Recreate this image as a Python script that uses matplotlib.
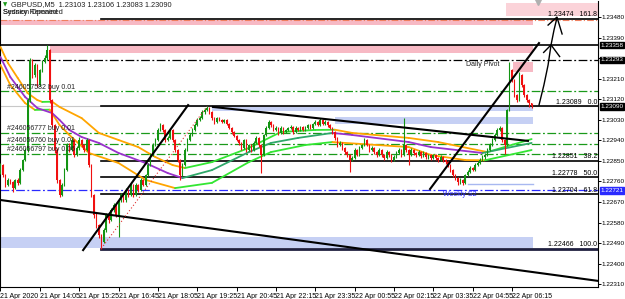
import numpy as np
import matplotlib.pyplot as plt
from matplotlib.patches import Rectangle
import matplotlib.transforms as mtrans

plt.rcParams['font.family'] = ['Liberation Sans', 'DejaVu Sans']

# prices are stored as points (1e-5) above BASE
BASE = 1.22
first_open = 800
closes = [832, 788, 745, 767, 758, 731, 767, 754, 810, 854,
          898, 1117, 1293, 1227, 1271, 1183, 1249, 1284, 1302, 1337,
          1117, 1008, 898, 767, 701, 745, 810, 920, 898, 942,
          876, 907, 942, 920, 898, 942, 832, 701, 613, 569,
          525, 495, 547, 613, 591, 635, 657, 613, 679, 701,
          679, 723, 701, 745, 701, 745, 723, 767, 745, 788,
          832, 876, 920, 942, 986, 1008, 986, 942, 951, 986,
          942, 898, 854, 788, 832, 898, 942, 964, 986, 1008,
          1030, 1038, 1065, 1074, 1082, 1065, 1038, 1021, 1038, 1030,
          1021, 1030, 1012, 995, 977, 960, 942, 929, 907, 942,
          898, 920, 898, 929, 951, 920, 876, 964, 995, 1021,
          1008, 986, 995, 973, 995, 977, 986, 995, 999, 977,
          995, 986, 999, 986, 995, 1008, 995, 1012, 1021, 1008,
          1030, 1012, 1021, 1008, 995, 977, 951, 920, 929, 907,
          889, 876, 854, 863, 898, 876, 907, 920, 942, 920,
          898, 907, 889, 876, 898, 876, 863, 889, 876, 854,
          867, 885, 898, 876, 920, 898, 876, 898, 885, 876,
          889, 872, 885, 867, 876, 863, 876, 863, 854, 867,
          854, 845, 832, 810, 788, 775, 758, 767, 754, 788,
          802, 819, 810, 832, 841, 854, 867, 876, 898, 920,
          942, 964, 986, 995, 942, 920, 1074, 1249, 1205, 1139,
          1117, 1227, 1183, 1139, 1117, 1103, 1090]
highs = [840, 838, 795, 775, 772, 762, 772, 775, 818, 860,
         905, 1125, 1300, 1298, 1280, 1275, 1255, 1292, 1315, 1359,
         1340, 1122, 1012, 905, 772, 752, 818, 930, 928, 950,
         948, 915, 955, 948, 925, 950, 946, 836, 705, 620,
         575, 530, 555, 620, 622, 642, 665, 662, 688, 710,
         708, 730, 728, 752, 750, 755, 750, 775, 772, 795,
         840, 884, 930, 952, 995, 1017, 1012, 990, 960, 994,
         990, 946, 902, 858, 840, 905, 950, 972, 994, 1015,
         1038, 1046, 1072, 1082, 1089, 1086, 1070, 1044, 1045, 1043,
         1035, 1036, 1034, 1016, 1000, 982, 965, 948, 933, 948,
         946, 926, 924, 936, 958, 955, 925, 970, 1002, 1030,
         1026, 1012, 1002, 1000, 1002, 1000, 992, 1000, 1006, 1004,
         1002, 1000, 1005, 1004, 1002, 1014, 1012, 1018, 1028, 1026,
         1038, 1034, 1028, 1026, 1012, 1000, 982, 956, 936, 934,
         912, 894, 880, 870, 905, 902, 914, 926, 950, 946,
         925, 914, 912, 894, 905, 902, 880, 896, 894, 880,
         874, 892, 905, 902, 1038, 925, 902, 905, 902, 890,
         896, 893, 892, 890, 882, 880, 882, 880, 868, 874,
         870, 858, 850, 836, 814, 792, 780, 774, 772, 795,
         810, 826, 824, 840, 848, 862, 874, 884, 905, 928,
         950, 972, 994, 1003, 1000, 946, 1080, 1284, 1255, 1210,
         1145, 1240, 1232, 1188, 1145, 1122, 1106]
lows = [795, 780, 735, 740, 750, 715, 725, 745, 750, 805,
        850, 890, 1110, 1215, 1220, 1175, 1178, 1240, 1278, 1295,
        1105, 1000, 885, 755, 690, 695, 740, 805, 890, 892,
        868, 870, 900, 912, 890, 892, 825, 690, 600, 555,
        512, 466, 488, 540, 580, 585, 628, 605, 518, 672,
        670, 672, 692, 695, 690, 696, 715, 718, 738, 740,
        782, 826, 870, 915, 936, 980, 978, 935, 936, 946,
        935, 890, 846, 767, 782, 828, 892, 936, 958, 980,
        1002, 1024, 1032, 1058, 1068, 1058, 1030, 1014, 1016, 1024,
        1015, 1016, 1006, 988, 970, 954, 936, 922, 900, 902,
        890, 892, 890, 893, 924, 912, 797, 870, 958, 990,
        1000, 980, 980, 966, 968, 970, 972, 980, 990, 970,
        972, 980, 980, 980, 980, 990, 988, 990, 1006, 1002,
        1002, 1006, 1006, 1000, 988, 970, 944, 912, 914, 900,
        882, 868, 802, 848, 858, 870, 872, 902, 915, 914,
        890, 892, 882, 868, 870, 868, 855, 858, 868, 846,
        848, 862, 880, 868, 870, 890, 832, 870, 878, 868,
        870, 865, 866, 860, 860, 856, 858, 856, 846, 848,
        846, 838, 825, 802, 780, 766, 745, 750, 746, 750,
        782, 796, 804, 805, 826, 836, 848, 860, 870, 892,
        914, 936, 958, 980, 935, 880, 915, 1068, 1198, 1132,
        1108, 1112, 1175, 1130, 1110, 1085, 1083]

# moving averages (bar index, points)
ma_hi_bars = [0, 3, 7, 11, 15, 17, 21, 24, 33, 40, 48, 56, 63, 70, 75, 86, 101, 114, 128, 136, 143, 166, 178, 198, 216]
ma_hi_vals = [1350, 1280, 1214, 1148, 1117, 1109, 1110, 1087, 1038, 973, 942, 911, 867, 832, 819, 845, 907, 977, 986, 987, 973, 951, 933, 889, 946]
ma_mid_bars = [0, 4, 10, 15, 21, 24, 28, 33, 40, 48, 59, 68, 74, 86, 101, 110, 121, 135, 143, 166, 175, 196, 216]
ma_mid_vals = [1306, 1218, 1131, 1082, 1060, 1030, 986, 955, 929, 885, 841, 797, 775, 810, 889, 929, 951, 973, 964, 933, 911, 885, 929]
ma_lo_bars = [0, 4, 10, 14, 20, 24, 28, 36, 48, 59, 71, 86, 101, 110, 124, 135, 136, 166, 175, 189, 197, 216]
ma_lo_vals = [1271, 1183, 1104, 1074, 1075, 1008, 964, 885, 841, 767, 731, 754, 845, 889, 920, 933, 932, 911, 876, 854, 853, 898]

# horizontal levels
fib_levels = [1.23474, 1.23089, 1.22851, 1.22778, 1.22704, 1.22466]
fib_names = ['161.8', '0.0', '38.2', '50.0', '61.8', '100.0']
fib_start = 41
order_levels = [1.23157, 1.22973, 1.22924, 1.22881]
order_names = ['#246057582 buy 0.01', '#246056777 buy 0.01', '#246056760 buy 0.01', '#246056797 buy 0.06']
pivot = 1.23293
weekly_s2 = 1.22721
hline = 1.23358
bid = 1.23090

# zones: (bar from, bar to, low pts, high pts)
pink_zones = [(-1, 216.5, 1446, 1468), (20, 216.5, 1323, 1359), (208.4, 216.5, 1240, 1284)]
light_pink_zone = (205.6, 243, 1486, 1543)
blue_zones = [(86, 216.5, 1069, 1091), (136, 216.5, 1012, 1043), (-1, 216.5, 468, 517)]

# trend lines: (bar0, pts0, bar1, pts1)
trend_lines = [(-0.2, 679, 243, 324), (86.4, 1087, 214.5, 938),
               (33.6, 459, 76.3, 1095), (174.7, 727, 219, 1367)]
fib_line = (41, 466, 84, 1089)

# hand drawn arrow
arrow_bars = [219, 221, 222.7, 223.9, 225.1, 226.3]
arrow_pts = [1095, 1183, 1271, 1359, 1424, 1477]
head1 = ([220.9, 223.9, 227.4], [1326, 1359, 1308])
head2 = ([222.7, 226.3, 228.4], [1446, 1481, 1407])

x_labels = ['21 Apr 2020', '21 Apr 14:05', '21 Apr 15:25', '21 Apr 16:45', '21 Apr 18:05',
            '21 Apr 19:25', '21 Apr 20:45', '21 Apr 22:15', '21 Apr 23:35', '22 Apr 00:55',
            '22 Apr 02:15', '22 Apr 03:35', '22 Apr 04:55', '22 Apr 06:15']
y_ticks = [1.22310, 1.22400, 1.22490, 1.22580, 1.22670, 1.22760, 1.22850, 1.22940,
           1.23030, 1.23120, 1.23210, 1.23300, 1.23390, 1.23480]


def P(v):
    return BASE + np.asarray(v) / 1e5


fig = plt.figure(figsize=(6.25, 2.99), dpi=100)
ax = fig.add_axes([0, 12 / 299, 598 / 625, 286 / 299])
ax.set_xlim(-0.2, 243)
ax.set_ylim(P(297.2), P(1551.6))

# zones
for b0, b1, lo, hi in pink_zones:
    ax.add_patch(Rectangle((b0, P(lo)), b1 - b0, P(hi) - P(lo), fc='#f7b9c4', ec='none', zorder=1))
b0, b1, lo, hi = light_pink_zone
ax.add_patch(Rectangle((b0, P(lo)), b1 - b0, P(hi) - P(lo), fc='#fbd3d9', ec='none', zorder=1))
for b0, b1, lo, hi in blue_zones:
    ax.add_patch(Rectangle((b0, P(lo)), b1 - b0, P(hi) - P(lo), fc='#c6d0f4', ec='none', zorder=1))
ax.plot([190, 216.5], [P(749), P(749)], color='#a8b8f0', lw=1, zorder=1)

# lines across the chart
ax.axhline(bid, color='#c8c8c8', lw=0.8, zorder=1.5)
ax.axhline(hline, color='black', lw=1.2, zorder=2)
ax.axhline(P(1468), color='#f08060', lw=0.8, ls=(0, (6, 2, 1, 2)), zorder=2)
ax.axhline(pivot, color='black', lw=0.9, ls=(0, (7, 2, 1.5, 2)), zorder=2)
ax.axhline(weekly_s2, color='#2a2aff', lw=0.9, ls=(0, (7, 2, 1.5, 2)), zorder=2)
for lv in order_levels:
    ax.axhline(lv, color='#1a9a1a', lw=0.9, ls=(0, (7, 2, 1.5, 2)), zorder=2)
for lv, nm in zip(fib_levels, fib_names):
    lw = 2.0 if nm == '100.0' else 1.2
    col = '#202040' if nm == '100.0' else 'black'
    ax.plot([fib_start, 243], [lv, lv], color=col, lw=lw, zorder=2.2)
    ax.text(242.6, lv + 0.00002, f'{lv:.5f}   {nm}', ha='right', va='bottom', fontsize=5.0, zorder=6)


def draw_ma(bars, vals, up_col, dn_col):
    p = P(vals)
    for k in range(len(bars) - 1):
        col = up_col if vals[k + 1] > vals[k] else dn_col
        ax.plot(bars[k:k + 2], p[k:k + 2], color=col, lw=1.3, solid_capstyle='round', zorder=3)


draw_ma(ma_hi_bars, ma_hi_vals, '#33e633', '#ffa500')
draw_ma(ma_lo_bars, ma_lo_vals, '#33e633', '#ffa500')
draw_ma(ma_mid_bars, ma_mid_vals, '#2fa86a', '#9932cc')

# candles
c = np.array(closes)
o = np.concatenate([[first_open], c[:-1]])
h = np.array(highs)
l = np.array(lows)
x = np.arange(len(c))
up = c >= o
cols = np.where(up, '#139413', '#f01010')
ax.vlines(x, P(l), P(h), colors=cols, lw=0.8, zorder=4)
body_lo = np.minimum(o, c)
body_h = np.maximum(np.abs(c - o), 2)
ax.bar(x, body_h / 1e5, bottom=P(body_lo), width=0.62, color=cols, zorder=4.1)

# trend lines
for b0, p0, b1, p1 in trend_lines:
    ax.plot([b0, b1], [P(p0), P(p1)], color='black', lw=1.5, zorder=5)
ax.plot([fib_line[0], fib_line[2]], [P(fib_line[1]), P(fib_line[3])], color='#e03030', lw=0.8, ls=(0, (1, 2)), zorder=5)
ax.plot(arrow_bars, P(arrow_pts), color='black', lw=1.0, zorder=5)
ax.plot(head1[0], P(head1[1]), color='black', lw=1.0, zorder=5)
ax.plot(head2[0], P(head2[1]), color='black', lw=1.0, zorder=5)
ax.plot([218.5], [P(1549)], marker='v', color='#b0b0b0', ms=4, zorder=6, clip_on=False)

# chart texts
for lv, nm in zip(order_levels, order_names):
    ax.text(2.5, lv + 0.00002, nm, fontsize=5.0, color='#202020', va='bottom', ha='left', zorder=6)
ax.text(189.5, pivot - 0.00003, 'Daily Pivot', fontsize=5.0, color='#202020', va='top', ha='left', zorder=6)
ax.text(180, weekly_s2 - 0.00003, 'Weekly S2', fontsize=5.0, color='#2a2aff', va='top', ha='left', zorder=6)

fig.text(3 / 625, 1 - 5 / 299, '\u25bc', fontsize=4, color='#1a9a1a', va='center', family='DejaVu Sans')
fig.text(11 / 625, 1 - 5 / 299, 'GBPUSD,M5  1.23103 1.23106 1.23083 1.23090', fontsize=5.3, color='#202020', va='center')
# two overlapping captions, as in the terminal window
fig.text(3 / 625, 1 - 13 / 299, 'Session Opened', fontsize=5.3, color='#202020', va='center')
fig.text(3 / 625, 1 - 13 / 299, 'Sydney Remained', fontsize=5.3, color='#202020', va='center')

# axes styling
ax.yaxis.tick_right()
ax.set_yticks(y_ticks)
ax.set_yticklabels(['' if abs(t - 1.233) < 1e-7 else f'{t:.5f}' for t in y_ticks])
ax.set_xticks(np.arange(len(x_labels)) * 16)
ax.set_xticklabels(x_labels, ha='left')
ax.tick_params(axis='x', direction='out', length=3, width=0.7, labelsize=5.0, pad=1.5, colors='black')
ax.tick_params(axis='y', direction='out', length=2, width=0.7, labelsize=4.6, pad=0.8, colors='black')
ax.spines['top'].set_visible(False)
for s in ['left', 'right', 'bottom']:
    ax.spines[s].set_linewidth(0.8)

right = mtrans.blended_transform_factory(ax.transAxes, ax.transData)
for lv, fc in [(hline, 'black'), (pivot, 'black'), (bid, 'black'), (weekly_s2, '#2a2aff')]:
    ax.text(1.0 + 2.5 / 598, lv, f'{lv:.5f}', transform=right, color='white', fontsize=4.6,
            va='center', ha='left', clip_on=False, zorder=7,
            bbox=dict(boxstyle='square,pad=0.12', fc=fc, ec=fc))

fig.savefig('out.png', dpi=100, facecolor='white')
